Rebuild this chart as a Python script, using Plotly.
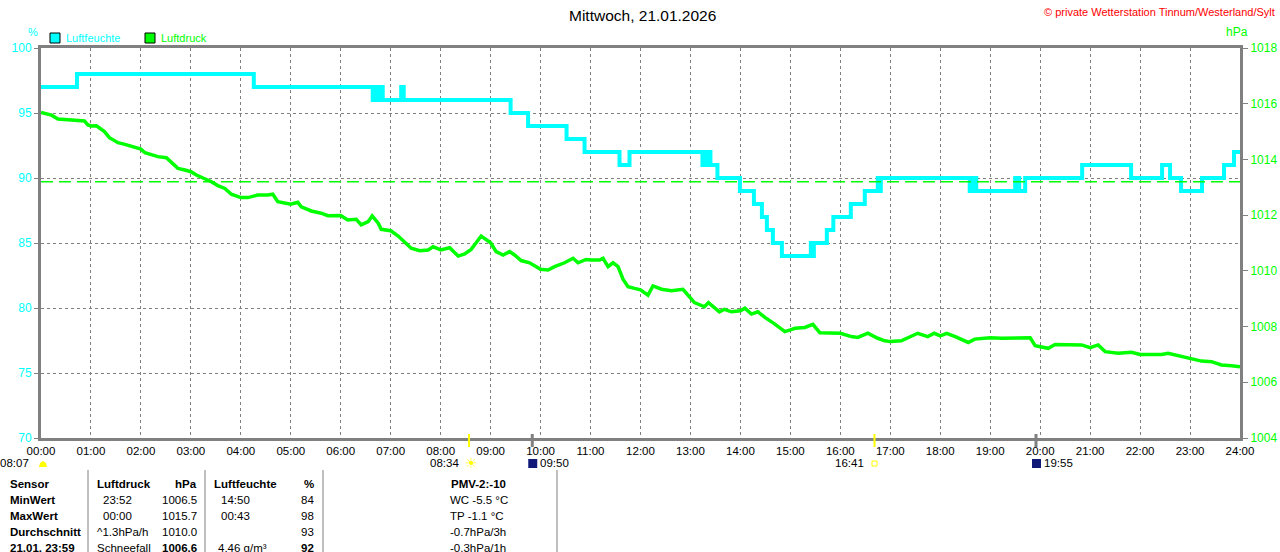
import plotly.graph_objects as go

# Luftfeuchte (%), Stufenverlauf: Zeit in Stunden, Wert ab diesem Zeitpunkt
feuchte_zeit = [0.00, 0.72, 4.26, 6.64, 6.68, 6.72, 6.78, 6.84, 7.21, 7.26, 9.40, 9.75,
                10.52, 10.88, 11.58, 11.78, 13.24, 13.28, 13.32, 13.36, 13.40, 13.54, 13.99,
                14.27, 14.43, 14.53, 14.65, 14.83, 15.41, 15.44, 15.47, 15.73, 15.86, 16.21,
                16.49, 16.75, 16.78, 16.81, 18.59, 18.65, 18.72, 19.50, 19.58, 19.70, 20.84,
                21.82, 22.44, 22.60, 22.82, 23.24, 23.68, 23.88, 24.00]
feuchte_wert = [97, 98, 97, 96, 97, 96, 97, 96, 97, 96, 95, 94,
                93, 92, 91, 92, 91, 92, 91, 92, 91, 90, 89,
                88, 87, 86, 85, 84, 85, 84, 85, 86, 87, 88,
                89, 90, 89, 90, 89, 90, 89, 90, 89, 90, 91,
                90, 91, 90, 89, 90, 91, 92, 92]

# Luftdruck (hPa)
druck_zeit = [0.00, 0.21, 0.34, 0.47, 0.61, 0.74, 0.87, 0.94, 1.00, 1.11, 1.17, 1.27, 1.37,
              1.54, 1.68, 1.81, 2.00, 2.08, 2.21, 2.34, 2.51, 2.61, 2.74, 2.88, 3.00, 3.11,
              3.28, 3.41, 3.54, 3.68, 3.81, 4.00, 4.14, 4.34, 4.54, 4.64, 4.74, 5.00, 5.14,
              5.21, 5.41, 5.61, 5.74, 6.00, 6.14, 6.31, 6.41, 6.55, 6.63, 6.75, 6.81, 7.00,
              7.15, 7.28, 7.41, 7.58, 7.75, 7.85, 8.00, 8.18, 8.35, 8.48, 8.61, 8.71, 8.81,
              9.00, 9.11, 9.25, 9.38, 9.48, 9.61, 9.78, 10.00, 10.15, 10.28, 10.48, 10.65,
              10.75, 10.91, 11.00, 11.18, 11.25, 11.35, 11.45, 11.55, 11.65, 11.75, 11.88,
              12.00, 12.15, 12.25, 12.42, 12.62, 12.85, 13.00, 13.08, 13.28, 13.36, 13.58,
              13.68, 13.82, 14.00, 14.09, 14.22, 14.35, 14.49, 14.69, 14.89, 15.00, 15.09,
              15.29, 15.45, 15.59, 15.79, 16.00, 16.22, 16.35, 16.55, 16.75, 16.89, 17.00,
              17.22, 17.42, 17.55, 17.75, 17.88, 18.00, 18.13, 18.30, 18.56, 18.69, 19.00,
              19.23, 19.43, 19.63, 19.80, 19.90, 20.00, 20.16, 20.30, 20.56, 20.83, 21.00,
              21.16, 21.30, 21.56, 21.83, 22.00, 22.23, 22.43, 22.56, 22.83, 23.00, 23.23,
              23.43, 23.63, 23.83, 24.00]
druck_wert = [1015.69, 1015.59, 1015.45, 1015.43, 1015.39, 1015.39, 1015.38, 1015.24, 1015.20,
              1015.21, 1015.14, 1015.00, 1014.78, 1014.60, 1014.54, 1014.46, 1014.37, 1014.24,
              1014.16, 1014.10, 1014.06, 1013.90, 1013.68, 1013.62, 1013.56, 1013.44, 1013.32,
              1013.20, 1013.06, 1012.96, 1012.75, 1012.63, 1012.63, 1012.72, 1012.72, 1012.75,
              1012.48, 1012.39, 1012.46, 1012.30, 1012.15, 1012.07, 1011.98, 1011.99, 1011.83,
              1011.85, 1011.65, 1011.77, 1011.97, 1011.71, 1011.49, 1011.44, 1011.25, 1011.05,
              1010.81, 1010.72, 1010.75, 1010.87, 1010.75, 1010.83, 1010.53, 1010.61, 1010.77,
              1011.01, 1011.25, 1011.01, 1010.69, 1010.57, 1010.69, 1010.57, 1010.37, 1010.29,
              1010.06, 1010.03, 1010.15, 1010.29, 1010.45, 1010.29, 1010.41, 1010.39, 1010.39,
              1010.45, 1010.15, 1010.29, 1010.15, 1009.70, 1009.43, 1009.37, 1009.32, 1009.13,
              1009.46, 1009.34, 1009.29, 1009.34, 1009.01, 1008.86, 1008.71, 1008.86, 1008.53,
              1008.62, 1008.53, 1008.57, 1008.66, 1008.45, 1008.53, 1008.33, 1008.09, 1007.82,
              1007.88, 1007.94, 1007.97, 1008.08, 1007.78, 1007.76, 1007.76, 1007.64, 1007.61,
              1007.76, 1007.58, 1007.49, 1007.46, 1007.49, 1007.64, 1007.76, 1007.64, 1007.76,
              1007.67, 1007.76, 1007.64, 1007.43, 1007.55, 1007.60, 1007.58, 1007.58, 1007.58,
              1007.60, 1007.31, 1007.28, 1007.22, 1007.36, 1007.36, 1007.34, 1007.24, 1007.34,
              1007.10, 1007.04, 1007.08, 1007.00, 1007.00, 1007.00, 1007.04, 1006.92, 1006.86,
              1006.76, 1006.74, 1006.62, 1006.59, 1006.56]

druck_referenz = 1013.2

stunden = list(range(25))
stunden_text = ["%02d:00" % h for h in stunden]
feuchte_ticks = [70, 75, 80, 85, 90, 95, 100]
druck_ticks = [1004, 1006, 1008, 1010, 1012, 1014, 1016, 1018]

# Sonne / Mond
sonne_zeit = [8 + 34 / 60, 16 + 41 / 60]
sonne_text = ["08:34", "16:41"]
mond_zeit = [9 + 50 / 60, 19 + 55 / 60]
mond_text = ["09:50", "19:55"]
daemmerung_text = "08:07"

# Tabelle unten
tab_kopf = ["Sensor", "Luftdruck", "hPa", "Luftfeuchte", "%", "PMV-2:-10"]
tab_namen = ["MinWert", "MaxWert", "Durchschnitt", "21.01. 23:59"]
tab_druck_zeit = ["23:52", "00:00", "^1.3hPa/h", "Schneefall"]
tab_druck_wert = ["1006.5", "1015.7", "1010.0", "1006.6"]
tab_feuchte_zeit = ["14:50", "00:43", "", "4.46 g/m³"]
tab_feuchte_wert = ["84", "98", "93", "92"]
tab_extra = ["WC -5.5 °C", "TP -1.1 °C", "-0.7hPa/3h", "-0.3hPa/1h"]

CYAN = "#00FFFF"
GRUEN = "#00FF00"
GRAU = "#808080"
FONT = "Liberation Sans"


def fx(p):
    return (p - 41) / 1199


def fy(p):
    return (438 - p) / 390


fig = go.Figure()
fig.add_trace(go.Scatter(x=feuchte_zeit, y=feuchte_wert, mode="lines", line_shape="hv",
                         line=dict(color=CYAN, width=4), showlegend=False, hoverinfo="skip"))
fig.add_trace(go.Scatter(x=druck_zeit, y=druck_wert, mode="lines", yaxis="y2",
                         line=dict(color=GRUEN, width=3.5), showlegend=False, hoverinfo="skip"))

shapes = []
anns = []

# Normaldruck-Linie
shapes.append(dict(type="line", xref="x", yref="y2", x0=0, x1=24, y0=druck_referenz,
                   y1=druck_referenz, line=dict(color=GRUEN, width=1.5, dash="12px,6px")))

# Legende
for i, (name, col) in enumerate([("Luftfeuchte", CYAN), ("Luftdruck", GRUEN)]):
    x0 = 50 + i * 95
    shapes.append(dict(type="rect", xref="paper", yref="paper", x0=fx(x0), x1=fx(x0 + 10),
                       y0=fy(43), y1=fy(33), fillcolor=col, line=dict(color="black", width=1)))
    anns.append(dict(x=fx(x0 + 14), y=fy(38), text=name, xanchor="left",
                     font=dict(color=col, size=11)))

anns.append(dict(x=fx(642), y=fy(15), text="Mittwoch, 21.01.2026", font=dict(size=15.5, color="black")))
anns.append(dict(x=fx(1277), y=fy(12), text="© private Wetterstation Tinnum/Westerland/Sylt",
                 xanchor="right", font=dict(size=11, color="red")))
anns.append(dict(x=fx(26), y=fy(32), text="%", font=dict(size=11, color=CYAN)))
anns.append(dict(x=fx(1250), y=fy(32), text="hPa", font=dict(size=12, color=GRUEN)))

# Sonne / Mond Markierungen
for t, txt in zip(sonne_zeit, sonne_text):
    shapes.append(dict(type="line", xref="x", yref="paper", x0=t, x1=t, y0=fy(434), y1=fy(447),
                       line=dict(color="#FFFF00", width=2)))
    anns.append(dict(x=t, xref="x", y=fy(463), text=txt, xanchor="right", xshift=-8,
                     font=dict(size=11.5, color="black")))
anns.append(dict(x=sonne_zeit[0], xref="x", y=fy(463), text="☀", xanchor="left", xshift=-6,
                 font=dict(size=14, color="#FFFF00", family="DejaVu Sans")))
shapes.append(dict(type="rect", xref="paper", yref="paper", x0=fx(872), x1=fx(877),
                   y0=fy(466), y1=fy(461), line=dict(color="#FFFF00", width=1)))
for t, txt in zip(mond_zeit, mond_text):
    shapes.append(dict(type="line", xref="x", yref="paper", x0=t, x1=t, y0=fy(434), y1=fy(447),
                       line=dict(color=GRAU, width=3)))
    shapes.append(dict(type="rect", xref="x", yref="paper", x0=t - 0.08, x1=t + 0.10,
                       y0=fy(468), y1=fy(459), fillcolor="#101878", line=dict(width=0)))
    anns.append(dict(x=t, xref="x", y=fy(463), text=txt, xanchor="left", xshift=6,
                     font=dict(size=11.5, color="black")))
anns.append(dict(x=fx(31), y=fy(463), text=daemmerung_text, xanchor="right",
                 font=dict(size=11.5, color="black")))
shapes.append(dict(type="path", xref="paper", yref="paper",
                   path="M %f,%f L %f,%f L %f,%f L %f,%f L %f,%f Z" % (
                       fx(39), fy(467), fx(40), fy(463), fx(43), fy(461), fx(46), fy(463), fx(47), fy(467)),
                   fillcolor="#FFFF00", line=dict(width=0)))

# Tabelle
for xl in [88, 205, 323, 557]:
    shapes.append(dict(type="line", xref="paper", yref="paper", x0=fx(xl), x1=fx(xl),
                       y0=fy(470), y1=fy(560), line=dict(color=GRAU, width=1)))

zeilen_y = [500, 516, 532, 548]


def zelle(x, y, text, anchor="left", bold=False):
    t = "<b>%s</b>" % text if bold else text
    anns.append(dict(x=fx(x), y=fy(y), text=t, xanchor=anchor,
                     font=dict(size=11.5, color="black")))


zelle(8, 484, tab_kopf[0], bold=True)
zelle(95, 484, tab_kopf[1], bold=True)
zelle(199, 484, tab_kopf[2], "right", bold=True)
zelle(212, 484, tab_kopf[3], bold=True)
zelle(316, 484, tab_kopf[4], "right", bold=True)
zelle(478, 484, tab_kopf[5], "center", bold=True)
for i, y in enumerate(zeilen_y):
    letzte = i == 3
    zelle(8, y, tab_namen[i], bold=True)
    zelle(95 if i >= 2 else 101, y, tab_druck_zeit[i])
    zelle(199, y, tab_druck_wert[i], "right", bold=letzte)
    zelle(216 if letzte else 219, y, tab_feuchte_zeit[i])
    zelle(316, y, tab_feuchte_wert[i], "right", bold=letzte)
    zelle(448, y, tab_extra[i])

for a in anns:
    a.setdefault("xref", "paper")
    a.setdefault("yref", "paper")
    a.setdefault("yanchor", "middle")
    a["showarrow"] = False

fig.update_layout(
    width=1280, height=552,
    margin=dict(l=41, r=40, t=48, b=114, autoexpand=False),
    paper_bgcolor="white", plot_bgcolor="white",
    font=dict(family=FONT, size=12, color="black"),
    showlegend=False,
    shapes=shapes, annotations=anns,
    xaxis=dict(range=[0, 24], tickvals=stunden, ticktext=stunden_text, showgrid=True,
               gridcolor=GRAU, griddash="3px,3px", gridwidth=1, zeroline=False,
               showline=True, mirror=True, linecolor=GRAU, linewidth=3, ticks="",
               tickfont=dict(size=11.5, color="black"), automargin=False),
    yaxis=dict(range=[70, 100], tickvals=feuchte_ticks, showgrid=True, gridcolor=GRAU,
               griddash="3px,3px", gridwidth=1, zeroline=False, showline=True, mirror=True,
               linecolor=GRAU, linewidth=3, ticks="outside", ticklen=4, tickcolor=GRAU,
               tickfont=dict(size=12, color=CYAN), automargin=False),
    yaxis2=dict(range=[1004, 1018], tickvals=druck_ticks, overlaying="y", side="right",
                showgrid=False, zeroline=False, showline=True, linecolor=GRAU, linewidth=3,
                ticks="outside", ticklen=5, tickcolor=GRAU, tickfont=dict(size=12, color=GRUEN),
                automargin=False),
)

# Seitenrand des Browsers entfernen, damit die Grafik bei 0,0 beginnt
fig.write_html("out.html", config={"displayModeBar": False},
               post_script="document.body.style.margin='0px';")
